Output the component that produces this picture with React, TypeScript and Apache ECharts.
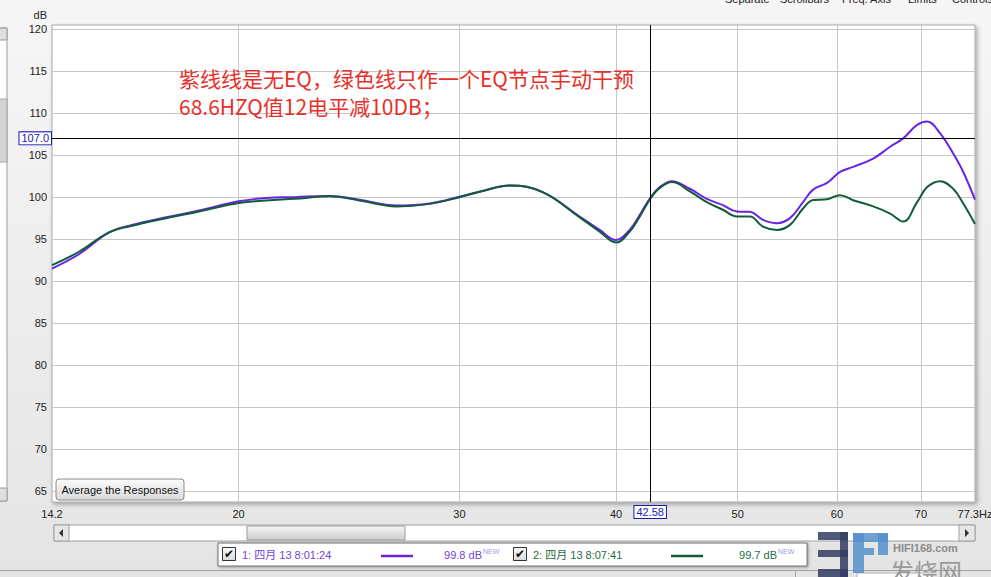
import React, { useEffect, useRef } from 'react';
import * as echarts from 'echarts';

// ---- data ----
const freqHz = [14.2, 14.92, 15.77, 16.45, 17.51, 18.6, 20.0, 21.04, 22.16, 23.63, 24.97, 26.72, 28.4, 30.0, 31.42, 32.9, 34.95, 37.41, 38.81, 40.0, 41.01, 41.78, 42.63, 43.34, 44.31, 45.8, 47.25, 48.66, 49.93, 51.13, 52.37, 53.74, 55.04, 56.37, 57.42, 58.92, 60.34, 61.8, 64.12, 66.15, 67.75, 69.51, 70.8, 72.51, 74.26, 75.65, 77.3];
const noEqDb = [91.5, 93.2, 95.8, 96.7, 97.6, 98.4, 99.5, 99.9, 100.0, 100.15, 99.7, 99.0, 99.25, 100.05, 100.8, 101.4, 100.6, 97.7, 96.1, 94.9, 96.1, 97.9, 100.0, 101.2, 101.9, 101.0, 99.8, 99.05, 98.3, 98.25, 97.3, 96.9, 97.5, 99.4, 100.9, 101.7, 103.0, 103.6, 104.6, 106.0, 107.0, 108.6, 109.0, 107.6, 105.2, 103.0, 99.7];
const oneEqDb = [91.9, 93.5, 95.8, 96.6, 97.5, 98.3, 99.3, 99.6, 99.8, 100.1, 99.6, 98.9, 99.2, 100.0, 100.8, 101.4, 100.6, 97.6, 95.9, 94.6, 95.9, 97.7, 99.9, 101.1, 101.8, 100.7, 99.4, 98.5, 97.7, 97.7, 96.5, 96.1, 96.7, 98.65, 99.65, 99.76, 100.24, 99.64, 98.9, 98.05, 97.1, 99.4, 101.2, 101.9, 101.0, 99.25, 96.8];
const seriesNames = ['1: 四月 13 8:01:24', '2: 四月 13 8:07:41'];
const legendLevels = ['99.8 dB', '99.7 dB'];
const xGridValues = [20, 30, 40, 50, 60, 70];
const xLabelValues = [14.2, 20, 30, 40, 50, 60, 70, 77.3];
const yTickValues = [65, 70, 75, 80, 85, 90, 95, 100, 105, 110, 115, 120];
const cursorFreq = 42.58;
const cursorLevel = 107.0;
const annotationLines = ['紫线线是无EQ，绿色线只作一个EQ节点手动干预', '68.6HZQ值12电平减10DB；'];
const toolbarLabels = ['Separate', 'Scrollbars', 'Freq. Axis', 'Limits', 'Controls'];

const PURPLE = '#6a24e4';
const GREEN = '#125c3a';
const LATIN = "'Liberation Sans', Arial, 'Noto Sans CJK SC', sans-serif";

const pairs = (ys: number[]) => freqHz.map((f, i) => [f, ys[i]]);

function buildGraphic() {
  const g = echarts.graphic;
  const btnFill = new g.LinearGradient(0, 0, 0, 1, [
    { offset: 0, color: '#fbfbfb' },
    { offset: 1, color: '#d9d9d9' },
  ]);
  const thumbFill = new g.LinearGradient(0, 0, 0, 1, [
    { offset: 0, color: '#f4f4f4' },
    { offset: 1, color: '#cdcdcd' },
  ]);
  const toolbarX = [725, 780, 842, 908, 952];
  const els: any[] = [];
  // top toolbar (cut off)
  toolbarLabels.forEach((t, i) => {
    els.push({ type: 'text', x: toolbarX[i], y: 4, style: { text: t, fontSize: 11, fontFamily: LATIN, fill: '#222', verticalAlign: 'bottom' } });
  });
  // left vertical scrollbar strip
  els.push({ type: 'rect', shape: { x: -1, y: 28, width: 8, height: 473 }, style: { fill: '#fff', stroke: '#9a9a9a' } });
  els.push({ type: 'rect', shape: { x: -1, y: 28, width: 8, height: 12 }, style: { fill: '#dedede', stroke: '#9a9a9a' } });
  els.push({ type: 'rect', shape: { x: -1, y: 99, width: 8, height: 63 }, style: { fill: '#d4d4d4', stroke: '#a8a8a8' } });
  els.push({ type: 'rect', shape: { x: -1, y: 488, width: 8, height: 13 }, style: { fill: '#dedede', stroke: '#9a9a9a' } });
  // dB unit
  els.push({ type: 'text', x: 47, y: 15, style: { text: 'dB', fontSize: 11, fontFamily: LATIN, fill: '#222', align: 'right', verticalAlign: 'middle' } });
  // annotation (two lines)
  els.push({
    type: 'text', x: 179, y: 64, z: 50,
    style: { text: annotationLines.join('\n'), fontSize: 21, lineHeight: 28, fontFamily: "'Noto Sans CJK SC', sans-serif", fill: '#e8302a', verticalAlign: 'top' },
  });
  // average button
  els.push({ type: 'rect', z: 50, shape: { x: 56, y: 479, width: 128, height: 21, r: 3 }, style: { fill: btnFill, stroke: '#8a8a8a' } });
  els.push({ type: 'text', z: 51, x: 120, y: 490, style: { text: 'Average the Responses', fontSize: 11, fontFamily: LATIN, fill: '#111', align: 'center', verticalAlign: 'middle' } });
  // bottom scrollbar
  els.push({ type: 'rect', shape: { x: 54, y: 525, width: 921, height: 16 }, style: { fill: '#fff', stroke: '#a0a0a0' } });
  els.push({ type: 'rect', shape: { x: 54, y: 525, width: 15, height: 16 }, style: { fill: '#e6e6e6', stroke: '#a0a0a0' } });
  els.push({ type: 'polygon', shape: { points: [[63, 529], [63, 537], [59, 533]] }, style: { fill: '#333' } });
  els.push({ type: 'rect', shape: { x: 247, y: 526, width: 158, height: 14 }, style: { fill: thumbFill, stroke: '#9a9a9a' } });
  // watermark logo
  const dark = 'rgba(50,60,100,0.85)';
  const light = 'rgba(85,145,205,0.85)';
  [[818, 532, 30, 8], [818, 550, 30, 7], [818, 569, 30, 8], [840, 532, 8, 45]].forEach(([x, y, w, h]) => {
    els.push({ type: 'rect', z: 60, shape: { x, y, width: w, height: h }, style: { fill: dark } });
  });
  [[853, 533, 11, 40], [853, 533, 35, 9], [878, 533, 10, 22], [864, 548, 10, 7]].forEach(([x, y, w, h]) => {
    els.push({ type: 'rect', z: 60, shape: { x, y, width: w, height: h }, style: { fill: light } });
  });
  els.push({ type: 'text', z: 60, x: 893, y: 548, style: { text: 'HIFI168.com', fontSize: 11, fontWeight: 'bold', fontFamily: LATIN, fill: '#8c8c8c', verticalAlign: 'middle' } });
  els.push({ type: 'text', z: 60, x: 890, y: 558, style: { text: '发烧网', fontSize: 24, fontFamily: "'Noto Sans CJK SC', sans-serif", fill: '#9a9a9a', verticalAlign: 'top' } });
  // right arrow of scrollbar
  els.push({ type: 'rect', z: 61, shape: { x: 959, y: 525, width: 16, height: 16 }, style: { fill: '#e6e6e6', stroke: '#a0a0a0' } });
  els.push({ type: 'polygon', z: 62, shape: { points: [[965, 529], [965, 537], [969, 533]] }, style: { fill: '#333' } });
  // bottom separator panel
  els.push({ type: 'line', shape: { x1: 0, y1: 570.5, x2: 991, y2: 570.5 }, style: { stroke: '#a0a0a0' } });
  els.push({ type: 'line', shape: { x1: 795.5, y1: 571, x2: 795.5, y2: 577 }, style: { stroke: '#a8a8a8' } });
  els.push({ type: 'rect', shape: { x: 857, y: 573, width: 75, height: 8 }, style: { fill: '#fff', stroke: '#b0b0b0' } });
  // legend box
  els.push({ type: 'rect', z: 40, shape: { x: 218, y: 543, width: 589, height: 23 }, style: { fill: '#fff', stroke: '#6e6e6e', shadowBlur: 3, shadowOffsetX: 1, shadowOffsetY: 1, shadowColor: 'rgba(0,0,0,0.35)' } });
  const entryX = [222, 513];
  const textColors = ['#7444d8', '#1f6b40'];
  const lineColors = [PURPLE, GREEN];
  const lineX = [381, 671];
  const levelRight = [482, 777];
  seriesNames.forEach((name, i) => {
    const x0 = entryX[i];
    els.push({ type: 'rect', z: 41, shape: { x: x0 + 0.5, y: 547.5, width: 13, height: 13 }, style: { fill: btnFill, stroke: '#333' } });
    els.push({ type: 'text', z: 42, x: x0 + 7, y: 554, style: { text: '✔', fontSize: 12, fontFamily: "'DejaVu Sans', sans-serif", fill: '#111', align: 'center', verticalAlign: 'middle' } });
    els.push({ type: 'text', z: 41, x: x0 + 20, y: 555, style: { text: name, fontSize: 11, fontFamily: LATIN, fill: textColors[i], verticalAlign: 'middle' } });
    els.push({ type: 'line', z: 41, shape: { x1: lineX[i], y1: 556, x2: lineX[i] + 32, y2: 556 }, style: { stroke: lineColors[i], lineWidth: 2.5 } });
    els.push({ type: 'text', z: 41, x: levelRight[i], y: 555, style: { text: legendLevels[i], fontSize: 11, fontFamily: LATIN, fill: textColors[i], align: 'right', verticalAlign: 'middle' } });
    els.push({ type: 'text', z: 41, x: levelRight[i] + 1, y: 551, style: { text: 'NEW', fontSize: 7, fontFamily: LATIN, fill: '#9c9cf0', verticalAlign: 'middle' } });
  });
  return els;
}

export default function App() {
  const ref = useRef<HTMLDivElement>(null);
  useEffect(() => {
    const chart = echarts.init(ref.current!, null, { renderer: 'svg' });
    const cursorLabel = {
      show: true,
      position: 'start',
      color: '#1a1ab4',
      fontSize: 11,
      fontFamily: LATIN,
      backgroundColor: '#fff',
      borderColor: '#1a1ab4',
      borderWidth: 1,
      padding: [1, 2, 0, 2],
    };
    chart.setOption({
      animation: false,
      backgroundColor: 'transparent',
      grid: {
        show: true,
        left: 52,
        top: 25,
        right: 16,
        bottom: 75,
        outerBoundsMode: 'none',
        containLabel: false,
        backgroundColor: '#fff',
        borderColor: '#a8a8a8',
        borderWidth: 1,
        shadowBlur: 4,
        shadowOffsetX: 2,
        shadowOffsetY: 2,
        shadowColor: 'rgba(0,0,0,0.3)',
      },
      xAxis: {
        type: 'log',
        logBase: 10,
        min: 14.2,
        max: 77.3,
        axisLine: { show: false },
        axisTick: { show: false, customValues: xGridValues },
        axisLabel: {
          customValues: xLabelValues,
          formatter: (v: number) => (Math.abs(v - 77.3) < 0.01 ? '77.3Hz' : String(v)),
          fontSize: 11,
          fontFamily: LATIN,
          color: '#222',
          margin: 6,
        },
        splitLine: { show: true, lineStyle: { color: '#c6c6c6', width: 1 } },
      },
      yAxis: {
        type: 'value',
        min: 63.7,
        max: 120.5,
        axisLine: { show: false },
        axisTick: { show: false, customValues: yTickValues },
        axisLabel: { customValues: yTickValues, fontSize: 11, fontFamily: LATIN, color: '#222', margin: 5 },
        splitLine: { show: true, lineStyle: { color: '#c6c6c6', width: 1 } },
      },
      series: [
        {
          name: seriesNames[0],
          type: 'line',
          data: pairs(noEqDb),
          smooth: 0.4,
          symbol: 'none',
          lineStyle: { color: PURPLE, width: 2 },
          z: 3,
          markLine: {
            silent: true,
            symbol: ['none', 'none'],
            lineStyle: { color: '#000', type: 'solid', width: 1 },
            data: [
              { xAxis: cursorFreq, label: { ...cursorLabel, distance: 4, formatter: () => cursorFreq.toFixed(2) } },
              { yAxis: cursorLevel, label: { ...cursorLabel, distance: 1, formatter: () => cursorLevel.toFixed(1) } },
            ],
          },
        },
        {
          name: seriesNames[1],
          type: 'line',
          data: pairs(oneEqDb),
          smooth: 0.4,
          symbol: 'none',
          lineStyle: { color: GREEN, width: 2 },
          z: 4,
        },
      ],
      graphic: { elements: buildGraphic() },
    });
    return () => chart.dispose();
  }, []);
  return (
    <div
      ref={ref}
      style={{
        position: 'fixed',
        left: 0,
        top: 0,
        width: 991,
        height: 577,
        background: 'linear-gradient(#f6f6f6, #e4e4e4)',
      }}
    />
  );
}
